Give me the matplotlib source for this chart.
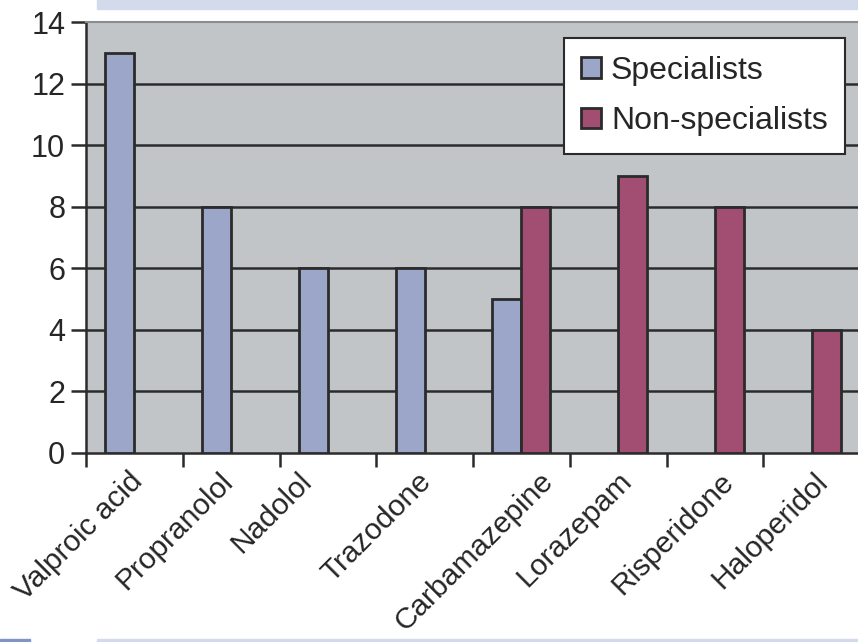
import matplotlib
matplotlib.use("Agg")
import matplotlib.pyplot as plt
from matplotlib.patches import Rectangle
from matplotlib.transforms import ScaledTranslation
import numpy as np

plt.rcParams['font.family'] = ['Liberation Sans', 'DejaVu Sans']

drugs = ["Valproic acid", "Propranolol", "Nadolol", "Trazodone",
         "Carbamazepine", "Lorazepam", "Risperidone", "Haloperidol"]
specialists = [13, 8, 6, 6, 5, 0, 0, 0]
non_specialists = [0, 0, 0, 0, 8, 9, 8, 4]
y_ticks = [0, 2, 4, 6, 8, 10, 12, 14]

# horizontal nudges (pixels) for the rotated category labels
label_nudge_px = [-6, -12, -30, -8, 18, -1, 5, 2]

spec_color = "#9ba6c9"
nonspec_color = "#a24d72"
edge = "#2b2b2b"
bg = "#c2c5c8"
text_color = "#262626"

fig = plt.figure(figsize=(8.58, 6.42), dpi=100)
fig.patch.set_facecolor("white")

# decorative page bands
fig.patches.append(Rectangle((97 / 858, 1 - 9 / 642), 1, 9 / 642,
                             transform=fig.transFigure, color="#d3daec", zorder=0))
fig.patches.append(Rectangle((97 / 858, 0), 1, 3 / 642,
                             transform=fig.transFigure, color="#d3daec", zorder=0))
fig.patches.append(Rectangle((0, 0), 30 / 858, 3 / 642,
                             transform=fig.transFigure, color="#7f95c4", zorder=0))

ax = fig.add_axes([86 / 858, 1 - 453 / 642, 774 / 858, 431 / 642])
ax.set_facecolor(bg)

x = np.arange(len(drugs))
w = 0.30
mask_s = np.array(specialists) > 0
mask_n = np.array(non_specialists) > 0
ax.bar(x[mask_s] - w / 2, np.array(specialists)[mask_s], width=w,
       color=spec_color, edgecolor=edge, linewidth=2, zorder=3, label="Specialists")
ax.bar(x[mask_n] + w / 2, np.array(non_specialists)[mask_n], width=w,
       color=nonspec_color, edgecolor=edge, linewidth=2, zorder=3, label="Non-specialists")

ax.set_xlim(-0.5, len(drugs) - 0.5)
ax.set_ylim(0, 14)
ax.set_yticks(y_ticks)
ax.set_yticklabels([str(v) for v in y_ticks], fontsize=22, color=text_color)

# grid lines at each interior tick
for v in y_ticks[1:-1]:
    ax.axhline(v, color="#2b2b2b", linewidth=1.8, zorder=1)

# category labels at centers, tick marks at boundaries
ax.set_xticks(x)
ax.set_xticklabels(drugs, rotation=45, ha="right", rotation_mode="anchor",
                   fontsize=21.5, color=text_color)
ax.tick_params(axis="x", which="major", length=0, pad=10)
for lbl, dx in zip(ax.get_xticklabels(), label_nudge_px):
    lbl.set_transform(lbl.get_transform() + ScaledTranslation(dx / 100, 0, fig.dpi_scale_trans))
ax.set_xticks(np.arange(-0.5, len(drugs) + 0.5, 1), minor=True)
ax.tick_params(axis="x", which="minor", length=10, width=1.8, color="#2b2b2b")
ax.tick_params(axis="y", length=11, width=1.8, color="#2b2b2b", pad=4)

for side in ["left", "bottom"]:
    ax.spines[side].set_color("#2b2b2b")
    ax.spines[side].set_linewidth(1.8)
ax.spines["top"].set_color("#8a8d90")
ax.spines["top"].set_linewidth(1.5)
ax.spines["right"].set_visible(False)

leg = ax.legend(loc="upper right", bbox_to_anchor=(0.981, 0.963), borderaxespad=0,
                fontsize=23, frameon=True, fancybox=False, framealpha=1,
                edgecolor="#2b2b2b", handlelength=0.63, handleheight=0.63,
                handletextpad=0.3, labelspacing=0.65, borderpad=0.55)
leg.get_frame().set_linewidth(1.5)
for t in leg.get_texts():
    t.set_color(text_color)

fig.savefig("out.png", dpi=100)
